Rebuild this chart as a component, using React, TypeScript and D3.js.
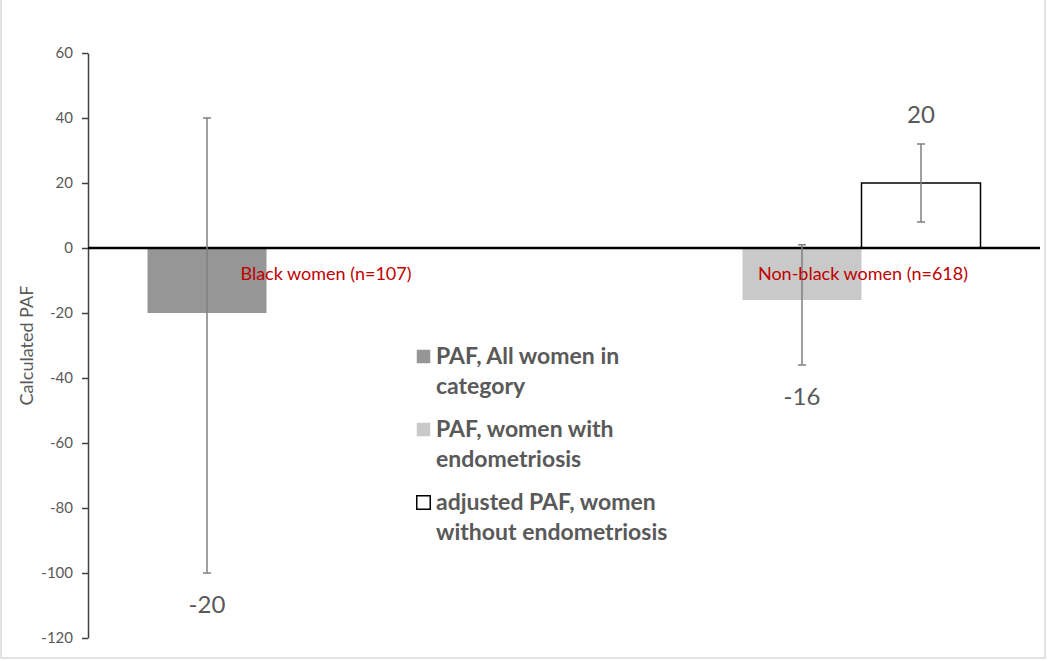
import { useEffect, useRef } from "react"
import * as d3 from "d3"

// categories and series
const categories = ["Black women (n=107)", "Non-black women (n=618)"]
const series = [
  "PAF, All women in category",
  "PAF, women with endometriosis",
  "adjusted PAF, women without endometriosis",
]
const legendLines = [
  ["PAF, All women in", "category"],
  ["PAF, women with", "endometriosis"],
  ["adjusted PAF, women", "without endometriosis"],
]

// values per series (null = no bar in that category)
const allWomen = [-20, null]
const withEndo = [null, -16]
const withoutEndo = [null, 20]

// error bar limits per series
const allWomenLo = [-100, null]
const allWomenHi = [40, null]
const withEndoLo = [null, -36]
const withEndoHi = [null, 1]
const withoutEndoLo = [null, 8]
const withoutEndoHi = [null, 32]

const yTicks = [-120, -100, -80, -60, -40, -20, 0, 20, 40, 60]

const fills = ["#969696", "#c9c9c9", "#ffffff"]
const strokes = ["none", "none", "#000000"]

export default function App() {
  const svgRef = useRef<SVGSVGElement>(null)

  useEffect(() => {
    if (!svgRef.current) return
    const svg = d3.select(svgRef.current)
    svg.selectAll("*").remove()

    const W = 1050
    const H = 661
    const left = 88
    const right = 1040
    const top = 53
    const bottom = 638

    // frame
    svg
      .append("rect")
      .attr("x", 1)
      .attr("y", -2)
      .attr("width", 1044)
      .attr("height", 660)
      .attr("fill", "#ffffff")
      .attr("stroke", "#d9d9d9")
      .attr("stroke-width", 1.5)

    const y = d3.scaleLinear().domain([-120, 60]).range([bottom, top])
    const x0 = d3.scaleBand<string>().domain(categories).range([left, right]).padding(0)
    const x1 = d3
      .scaleBand<string>()
      .domain(series)
      .range([0, x0.bandwidth()])
      .paddingInner(0)
      .paddingOuter(0.5)

    // y axis
    const yAxis = svg
      .append("g")
      .attr("transform", `translate(${left},0)`)
      .call(
        d3
          .axisLeft(y)
          .tickValues(yTicks)
          .tickFormat((d) => String(d))
          .tickSize(6)
          .tickPadding(9)
          .tickSizeOuter(0),
      )
    yAxis.select(".domain").attr("stroke", "#404040").attr("stroke-width", 1.5)
    yAxis.selectAll(".tick line").attr("stroke", "#404040").attr("stroke-width", 1.5)
    yAxis
      .selectAll(".tick text")
      .attr("fill", "#595959")
      .attr("font-family", "Lato, sans-serif")
      .attr("font-size", 15)

    svg
      .append("text")
      .attr("transform", `translate(33,${(top + bottom) / 2}) rotate(-90)`)
      .attr("text-anchor", "middle")
      .attr("fill", "#595959")
      .attr("font-family", "Lato, sans-serif")
      .attr("font-size", 18)
      .text("Calculated PAF")

    const vals = [allWomen, withEndo, withoutEndo]
    const los = [allWomenLo, withEndoLo, withoutEndoLo]
    const his = [allWomenHi, withEndoHi, withoutEndoHi]

    // bars
    series.forEach((s, si) => {
      categories.forEach((c, ci) => {
        const v = vals[si][ci]
        if (v === null) return
        svg
          .append("rect")
          .attr("x", (x0(c) || 0) + (x1(s) || 0))
          .attr("width", x1.bandwidth())
          .attr("y", Math.min(y(v), y(0)))
          .attr("height", Math.abs(y(v) - y(0)))
          .attr("fill", fills[si])
          .attr("stroke", strokes[si])
          .attr("stroke-width", 1.5)
      })
    })

    // zero line
    svg
      .append("line")
      .attr("x1", left)
      .attr("x2", right)
      .attr("y1", y(0))
      .attr("y2", y(0))
      .attr("stroke", "#000000")
      .attr("stroke-width", 2.5)

    // error bars and value labels
    series.forEach((s, si) => {
      categories.forEach((c, ci) => {
        const v = vals[si][ci]
        const lo = los[si][ci]
        const hi = his[si][ci]
        if (v === null || lo === null || hi === null) return
        const cx = (x0(c) || 0) + (x1(s) || 0) + x1.bandwidth() / 2
        const g = svg.append("g").attr("stroke", "#7f7f7f").attr("stroke-width", 1.5)
        g.append("line").attr("x1", cx).attr("x2", cx).attr("y1", y(lo)).attr("y2", y(hi))
        g.append("line").attr("x1", cx - 4).attr("x2", cx + 4).attr("y1", y(lo)).attr("y2", y(lo))
        g.append("line").attr("x1", cx - 4).attr("x2", cx + 4).attr("y1", y(hi)).attr("y2", y(hi))

        svg
          .append("text")
          .attr("x", cx)
          .attr("y", v < 0 ? y(lo) + 40 : y(hi) - 21)
          .attr("text-anchor", "middle")
          .attr("fill", "#595959")
          .attr("font-family", "Lato, sans-serif")
          .attr("font-size", 24)
          .text(String(v))
      })
    })

    // category labels
    const catShift = [0, 61]
    categories.forEach((c, ci) => {
      svg
        .append("text")
        .attr("x", (x0(c) || 0) + x0.bandwidth() / 2 + catShift[ci])
        .attr("y", y(0) + 32)
        .attr("text-anchor", "middle")
        .attr("fill", "#c00000")
        .attr("font-family", "Lato, sans-serif")
        .attr("font-size", 18)
        .text(c)
    })

    // legend
    const lg = svg.append("g").attr("transform", "translate(416,356)")
    legendLines.forEach((lines, i) => {
      const gy = i * 73
      lg.append("rect")
        .attr("x", 0.75)
        .attr("y", gy - 6.25)
        .attr("width", 13.5)
        .attr("height", 13.5)
        .attr("fill", fills[i])
        .attr("stroke", strokes[i])
        .attr("stroke-width", 1.5)
      lines.forEach((t, li) => {
        lg.append("text")
          .attr("x", 20)
          .attr("y", gy + li * 30 + 8)
          .attr("fill", "#595959")
          .attr("font-family", "Lato, sans-serif")
          .attr("font-weight", "bold")
          .attr("font-size", 23)
          .text(t)
      })
    })

    svg.attr("width", W).attr("height", H)
  }, [])

  return (
    <>
      <style>{"body{margin:0;background:#fff}"}</style>
      <svg ref={svgRef} width={1050} height={661} style={{ display: "block" }}></svg>
    </>
  )
}
